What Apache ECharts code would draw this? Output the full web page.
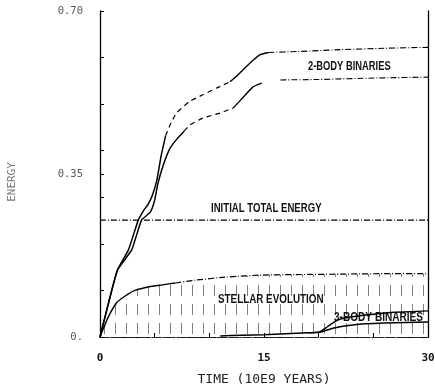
<!DOCTYPE html>
<html><head><meta charset="utf-8">
<script src="https://cdn.jsdelivr.net/npm/echarts@6/dist/echarts.min.js"></script>
<style>html,body{margin:0;padding:0;background:#fff}#c{width:435px;height:392px}</style>
</head><body><div id="c"></div>
<script>
// ---- data ----
const xTickLabels = [0, 15, 30];
const yTickLabels = {0: '0.', 0.35: '0.35', 0.7: '0.70'};

const upperSolidA = [[0,0],[0.8,0.075],[1.6,0.144],[2.6,0.187],[3.5,0.251],[4.0,0.272],[4.4,0.285],[4.8,0.305],[5.2,0.337],[5.6,0.39],[6.0,0.432]];
const upperDashA  = [[6.0,0.432],[6.5,0.46],[7.0,0.481],[8.2,0.506],[9.4,0.52],[10.7,0.535],[11.9,0.548]];
const upperSolidB = [[11.9,0.548],[12.8,0.567],[13.7,0.588],[14.6,0.606],[15.4,0.611]];
const upperDashB  = [[15.4,0.611],[18,0.613],[22,0.617],[26,0.620],[30,0.622]];

const lowerSolidA = [[0,0],[0.8,0.075],[1.6,0.144],[2.9,0.187],[3.8,0.251],[4.6,0.268],[5.0,0.294],[5.3,0.330],[5.8,0.37],[6.4,0.405],[7.1,0.427],[7.7,0.442]];
const lowerDashA  = [[7.7,0.442],[8.2,0.455],[9.4,0.47],[11.0,0.481],[12.2,0.492]];
const lowerSolidB = [[12.2,0.492],[13.1,0.515],[14.0,0.537],[14.8,0.545]];
const lowerDashB  = [[16.5,0.552],[20,0.553],[25,0.556],[30,0.558]];

const initialEnergy = [[0,0.251],[30,0.251]];

const stellarSolid = [[0,0],[0.7,0.04],[1.5,0.073],[2.3,0.088],[3.2,0.10],[4.5,0.108],[5.7,0.112],[6.9,0.116]];
const stellarDash  = [[6.9,0.116],[8.7,0.122],[11.7,0.129],[14.8,0.133],[17.8,0.134],[22,0.135],[26,0.136],[30,0.136]];

const threeBodyLower = [[11,0.002],[13,0.004],[15,0.005],[17,0.007],[19,0.009],[20.1,0.010],[21.3,0.019],[23.1,0.026],[25.9,0.030],[30,0.032]];
const threeBodyUpper = [[19,0.009],[20.1,0.011],[20.8,0.022],[21.7,0.036],[22.9,0.043],[25,0.049],[27,0.053],[30,0.056]];

// ---- hatch pattern ----
const pc = document.createElement('canvas');
pc.width = 11; pc.height = 19;
const g = pc.getContext('2d');
g.strokeStyle = 'rgba(0,0,0,0.5)';
g.lineWidth = 1;
g.beginPath(); g.moveTo(5.5, 0); g.lineTo(5.5, 11); g.stroke();

const chart = echarts.init(document.getElementById('c'), null, {renderer: 'canvas'});
const lbl = 'bold 12px "Liberation Sans", sans-serif';
const dashDot = [6, 2, 1, 2];
function line(data, type, w) {
  return {type: 'line', data: data, symbol: 'none', smooth: 0.15, animation: false,
    lineStyle: {color: '#000', width: w || 1.4, type: type || 'solid'}, z: 3};
}
function label(text, x, y, sx) {
  return {type: 'text', x: x, y: y, scaleX: sx, style: {text: text, font: lbl, fill: '#111', textVerticalAlign: 'middle'}};
}
chart.setOption({
  animation: false,
  grid: {left: 100, right: 7, top: 11, bottom: 55, outerBoundsMode: 'none', containLabel: false},
  xAxis: [
    {type: 'value', min: 0, max: 30, interval: 5, position: 'bottom',
     axisLine: {lineStyle: {color: '#000', width: 1.2, type: dashDot}},
     axisTick: {inside: true, length: 4, lineStyle: {color: '#000'}},
     axisLabel: {margin: 16, color: '#111', fontFamily: 'DejaVu Sans Mono', fontSize: 11, fontWeight: 'bold',
       formatter: v => xTickLabels.indexOf(v) >= 0 ? String(v) : ''},
     splitLine: {show: false},
     name: 'TIME (10E9 YEARS)', nameLocation: 'middle', nameGap: 36,
     nameTextStyle: {fontFamily: 'DejaVu Sans Mono', fontSize: 13, color: '#222'}},
    {type: 'value', min: 0, max: 30, position: 'top',
     axisLine: {show: true, lineStyle: {color: '#222', width: 1, type: [9, 4]}},
     axisTick: {show: false}, axisLabel: {show: false}, splitLine: {show: false}}
  ],
  yAxis: [
    {type: 'value', min: 0, max: 0.7, interval: 0.35, position: 'left',
     axisLine: {show: true, lineStyle: {color: '#000', width: 1.3}},
     axisTick: {inside: true, length: 4, lineStyle: {color: '#000'}},
     axisLabel: {margin: 17, color: '#555', fontFamily: 'DejaVu Sans Mono', fontSize: 10.5,
       formatter: v => yTickLabels[Math.round(v * 100) / 100] || ''},
     splitLine: {show: false}},
    {type: 'value', min: 0, max: 0.7, interval: 0.1, position: 'left',
     axisLine: {show: false}, axisTick: {inside: true, length: 4, lineStyle: {color: '#000'}},
     axisLabel: {show: false}, splitLine: {show: false}},
    {type: 'value', min: 0, max: 0.7, position: 'right',
     axisLine: {show: true, lineStyle: {color: '#000', width: 1.3}},
     axisTick: {show: false}, axisLabel: {show: false}, splitLine: {show: false}}
  ],
  series: [
    {type: 'line', data: stellarSolid.concat(stellarDash.slice(1)), symbol: 'none', smooth: 0.15,
     lineStyle: {width: 0, opacity: 0}, areaStyle: {color: {image: pc, repeat: 'repeat'}, opacity: 1}, z: 1},
    line(upperSolidA, 'solid', 1.5), line(upperDashA, [5, 4], 1.2), line(upperSolidB, 'solid', 1.4), line(upperDashB, dashDot, 1.1),
    line(lowerSolidA, 'solid', 1.5), line(lowerDashA, [5, 4], 1.2), line(lowerSolidB, 'solid', 1.4), line(lowerDashB, dashDot, 1.1),
    line(initialEnergy, dashDot, 1.1),
    line(stellarSolid, 'solid', 1.4), line(stellarDash, dashDot, 1.2),
    line(threeBodyLower, 'solid', 1.5), line(threeBodyUpper, 'solid', 1.4)
  ],
  graphic: [
    label('2-BODY BINARIES', 308, 67, 0.78),
    label('INITIAL TOTAL ENERGY', 211, 209, 0.8),
    label('STELLAR EVOLUTION', 218, 300, 0.82),
    label('3-BODY BINARIES', 334, 318, 0.84),
    {type: 'text', x: 12, y: 182, rotation: Math.PI / 2,
     style: {text: 'ENERGY', font: '11px "DejaVu Sans Mono"', fill: '#777', align: 'center', verticalAlign: 'middle'}}
  ]
});
</script></body></html>
